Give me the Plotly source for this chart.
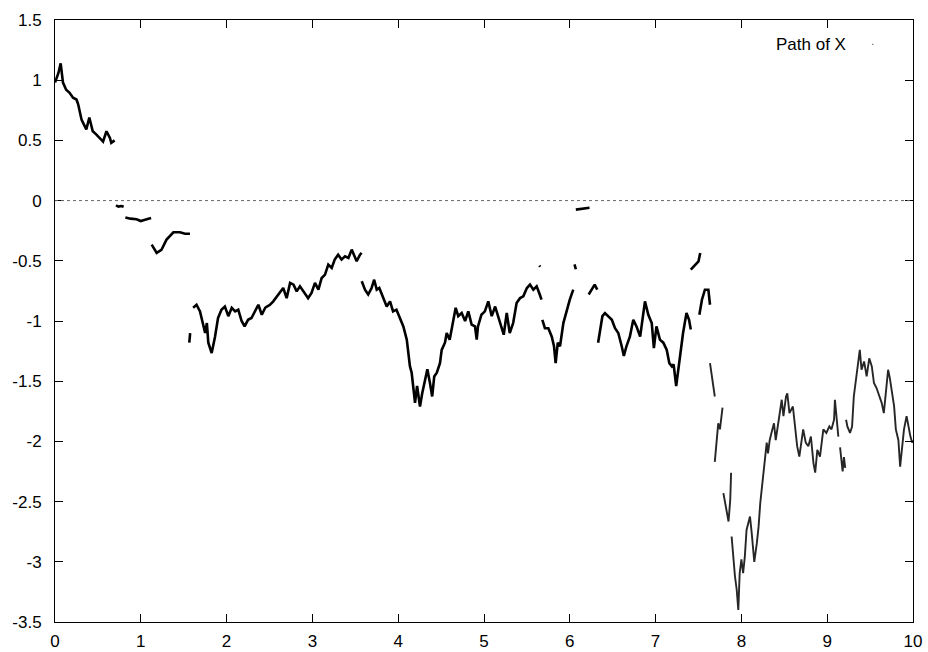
import plotly.graph_objects as go

# ---- sampled path of X, one pair of lists per continuous piece (jumps between pieces) ----
t_a = [0.00, 0.015, 0.04, 0.066, 0.093, 0.13, 0.17, 0.21, 0.25, 0.27, 0.29, 0.31, 0.345,
       0.365, 0.40, 0.44, 0.48, 0.52, 0.56, 0.60, 0.64, 0.656, 0.695]
x_a = [0.98, 1.005, 1.06, 1.14, 0.98, 0.92, 0.895, 0.854, 0.84, 0.80, 0.73, 0.67, 0.62,
       0.59, 0.69, 0.576, 0.55, 0.52, 0.49, 0.576, 0.52, 0.48, 0.50]

t_b = [0.71, 0.74, 0.77, 0.80]
x_b = [-0.04, -0.05, -0.045, -0.05]

t_c = [0.82, 0.88, 0.95, 1.00, 1.05, 1.10, 1.12]
x_c = [-0.14, -0.15, -0.155, -0.17, -0.16, -0.15, -0.145]

t_d = [1.127, 1.16, 1.185, 1.24, 1.30, 1.38, 1.457, 1.515, 1.573]
x_d = [-0.366, -0.40, -0.435, -0.41, -0.324, -0.263, -0.263, -0.275, -0.275]

t_e = [1.565, 1.575]
x_e = [-1.18, -1.10]

t_f = [1.61, 1.65, 1.69, 1.73, 1.75, 1.77, 1.787, 1.826, 1.845, 1.865, 1.90, 1.94, 1.98,
       2.02, 2.06, 2.10, 2.136, 2.175, 2.21, 2.25, 2.29, 2.33, 2.37, 2.41, 2.45, 2.47,
       2.506, 2.544, 2.584, 2.62, 2.66, 2.70, 2.74, 2.78, 2.817, 2.855, 2.894, 2.95, 2.99,
       3.03, 3.07, 3.108, 3.147, 3.185, 3.225, 3.26, 3.30, 3.34, 3.38, 3.42, 3.458, 3.497,
       3.516, 3.555, 3.574]
x_f = [-0.89, -0.865, -0.92, -1.045, -1.10, -1.017, -1.18, -1.266, -1.21, -1.13, -0.975,
       -0.906, -0.88, -0.96, -0.89, -0.92, -0.906, -1.0, -1.045, -0.99, -0.975, -0.92,
       -0.865, -0.948, -0.89, -0.88, -0.865, -0.837, -0.795, -0.767, -0.726, -0.81, -0.684,
       -0.698, -0.754, -0.712, -0.754, -0.81, -0.767, -0.684, -0.74, -0.643, -0.615, -0.532,
       -0.56, -0.49, -0.449, -0.49, -0.463, -0.476, -0.407, -0.463, -0.504, -0.449, -0.435]

t_g = [3.575, 3.613, 3.65, 3.69, 3.72, 3.75, 3.78, 3.826, 3.866, 3.905, 3.94, 3.98, 4.02,
       4.06, 4.10, 4.118, 4.137, 4.157, 4.176, 4.196, 4.22, 4.254, 4.28, 4.31, 4.34, 4.37,
       4.396, 4.42, 4.45, 4.487, 4.507, 4.545, 4.565, 4.60, 4.64, 4.67, 4.70, 4.74, 4.78,
       4.817, 4.856, 4.895, 4.915, 4.93, 4.97, 5.01, 5.05, 5.09, 5.13, 5.167, 5.206, 5.23,
       5.265, 5.30, 5.34, 5.38, 5.42, 5.458, 5.50, 5.536, 5.575, 5.614, 5.65, 5.67]
x_g = [-0.67, -0.74, -0.78, -0.726, -0.657, -0.74, -0.726, -0.81, -0.88, -0.837, -0.92,
       -0.906, -0.975, -1.045, -1.155, -1.266, -1.377, -1.43, -1.54, -1.68, -1.54, -1.71,
       -1.60, -1.49, -1.40, -1.515, -1.627, -1.46, -1.43, -1.35, -1.24, -1.18, -1.10,
       -1.155, -1.017, -0.89, -0.96, -0.934, -1.0, -0.92, -1.03, -1.045, -1.155, -1.045,
       -0.948, -0.92, -0.837, -0.96, -0.88, -0.96, -1.045, -1.114, -0.934, -1.10, -1.017,
       -0.85, -0.81, -0.795, -0.726, -0.698, -0.74, -0.712, -0.78, -0.823]

t_h = [5.645, 5.655]
x_h = [-0.54, -0.55]

t_i = [5.68, 5.71, 5.75, 5.79, 5.816, 5.835, 5.86, 5.886, 5.925, 5.964, 6.0, 6.04]
x_i = [-0.99, -1.06, -1.06, -1.13, -1.21, -1.35, -1.18, -1.21, -1.017, -0.906, -0.823, -0.74]

t_j = [6.055, 6.07]
x_j = [-0.53, -0.57]

t_k = [6.07, 6.15, 6.23]
x_k = [-0.075, -0.068, -0.06]

t_l = [6.22, 6.255, 6.29, 6.32]
x_l = [-0.78, -0.74, -0.698, -0.74]

t_m = [6.33, 6.35, 6.38, 6.41, 6.45, 6.49, 6.527, 6.565, 6.605, 6.63, 6.66, 6.70, 6.74,
       6.78, 6.82, 6.85, 6.876, 6.915, 6.955, 6.98, 7.01, 7.05, 7.09, 7.13, 7.16, 7.19,
       7.21, 7.24, 7.265, 7.284, 7.32, 7.36, 7.39, 7.41]
x_m = [-1.18, -1.09, -0.96, -0.934, -0.96, -0.99, -1.06, -1.10, -1.21, -1.29, -1.21,
       -1.13, -0.99, -1.05, -1.13, -0.99, -0.837, -0.948, -1.017, -1.225, -1.045, -1.155,
       -1.18, -1.24, -1.35, -1.377, -1.36, -1.54, -1.39, -1.29, -1.10, -0.934, -0.99, -1.07]

t_n = [7.41, 7.46, 7.50, 7.52]
x_n = [-0.574, -0.53, -0.504, -0.435]

t_o = [7.51, 7.54, 7.575, 7.615, 7.634]
x_o = [-0.948, -0.823, -0.74, -0.74, -0.865]

t_p = [7.634, 7.65, 7.67, 7.69]
x_p = [-1.35, -1.43, -1.515, -1.627]

t_q = [7.69, 7.71, 7.73, 7.75, 7.77, 7.78]
x_q = [-2.17, -2.01, -1.85, -1.90, -1.765, -1.72]

t_r = [7.79, 7.81, 7.83, 7.85, 7.87, 7.88]
x_r = [-2.43, -2.51, -2.60, -2.665, -2.485, -2.26]

t_s = [7.886, 7.905, 7.925, 7.945, 7.964, 7.98, 8.0, 8.02, 8.04, 8.06, 8.08, 8.10, 8.12,
       8.14, 8.15, 8.18, 8.20, 8.22, 8.24, 8.255, 8.275, 8.295, 8.31, 8.33, 8.35, 8.38,
       8.40, 8.43, 8.45, 8.47, 8.49, 8.52, 8.535, 8.56, 8.60, 8.625, 8.65, 8.675, 8.70,
       8.72, 8.75, 8.78, 8.81, 8.84, 8.86, 8.885, 8.916, 8.955, 8.99, 9.025, 9.05, 9.08,
       9.09, 9.11, 9.13]
x_s = [-2.79, -2.98, -3.12, -3.23, -3.40, -3.095, -2.98, -3.095, -2.957, -2.735, -2.68,
       -2.624, -2.76, -2.93, -3.0, -2.845, -2.71, -2.51, -2.375, -2.236, -2.126, -2.01,
       -2.10, -1.99, -1.93, -1.85, -1.99, -1.85, -1.765, -1.654, -1.79, -1.627, -1.60,
       -1.765, -1.71, -1.876, -2.04, -2.126, -1.99, -1.90, -2.01, -2.04, -1.96, -2.18,
       -2.26, -2.07, -2.126, -1.90, -1.93, -1.876, -1.90, -1.82, -1.654, -1.79, -1.96]

t_u = [9.15, 9.165, 9.18, 9.195, 9.21]
x_u = [-2.05, -2.17, -2.25, -2.13, -2.22]

t_v = [9.22, 9.235, 9.266, 9.29, 9.31, 9.335, 9.36, 9.38, 9.40, 9.43, 9.46, 9.49, 9.52,
       9.545, 9.575, 9.605, 9.635, 9.66, 9.685, 9.71, 9.73, 9.75, 9.78, 9.80, 9.83, 9.85,
       9.87, 9.895, 9.925, 9.95, 9.97, 9.99, 10.0]
x_v = [-1.82, -1.876, -1.93, -1.876, -1.627, -1.49, -1.32, -1.24, -1.405, -1.336, -1.46,
       -1.31, -1.377, -1.515, -1.557, -1.627, -1.68, -1.765, -1.60, -1.405, -1.474, -1.585,
       -1.71, -1.90, -1.99, -2.21, -2.07, -1.90, -1.79, -1.90, -1.96, -2.01, -1.99]

# ---- axis ticks ----
x_ticks = [0, 1, 2, 3, 4, 5, 6, 7, 8, 9, 10]
y_ticks = [1.5, 1, 0.5, 0, -0.5, -1, -1.5, -2, -2.5, -3, -3.5]
y_tick_text = ["1.5", "1", "0.5", "0", "-0.5", "-1", "-1.5", "-2", "-2.5", "-3", "-3.5"]
legend_label = "Path of X"

# slowly varying stretch (dense dots) and the volatile stretch after t ~ 7.6 (sparse dots)
calm_pieces = [(t_a, x_a), (t_b, x_b), (t_c, x_c), (t_d, x_d), (t_e, x_e), (t_f, x_f),
               (t_g, x_g), (t_h, x_h), (t_i, x_i), (t_j, x_j), (t_k, x_k), (t_l, x_l),
               (t_m, x_m), (t_n, x_n), (t_o, x_o)]
wild_pieces = [(t_p, x_p), (t_q, x_q), (t_r, x_r), (t_s, x_s), (t_u, x_u), (t_v, x_v)]


def join(pieces):
    tt_all, xx_all = [], []
    for tt, xx in pieces:
        tt_all += list(tt) + [None]
        xx_all += list(xx) + [None]
    return tt_all, xx_all


FONT = "Liberation Sans, Arial, Helvetica, sans-serif"

fig = go.Figure()
T1, X1 = join(calm_pieces)
fig.add_trace(go.Scatter(
    x=T1, y=X1, mode="lines", connectgaps=False,
    line=dict(color="black", width=2.6),
    showlegend=False, hoverinfo="skip",
))
T2, X2 = join(wild_pieces)
fig.add_trace(go.Scatter(
    x=T2, y=X2, mode="lines", connectgaps=False,
    line=dict(color="#262626", width=1.9),
    showlegend=False, hoverinfo="skip",
))

# dotted zero line
fig.add_shape(type="line", xref="x", yref="y", x0=0, x1=10, y0=0, y1=0,
              line=dict(color="#666666", width=1, dash="dot"))

# key: label on the left, tiny dot sample on the right
fig.add_annotation(x=9.246, y=1.30, xref="x", yref="y", text=legend_label,
                   showarrow=False, xanchor="right", yanchor="middle",
                   font=dict(family=FONT, size=17, color="black"))
fig.add_shape(type="rect", xref="x", yref="y", x0=9.525, x1=9.537, y0=1.292, y1=1.302,
              line=dict(width=0), fillcolor="#555555")

axis_common = dict(
    showline=True, linecolor="black", linewidth=1, mirror="ticks",
    ticks="inside", ticklen=8, tickcolor="black", tickwidth=1,
    showgrid=False, zeroline=False,
    tickfont=dict(family=FONT, size=17, color="black"),
)

fig.update_xaxes(range=[0, 10], tickvals=x_ticks, ticklabelstandoff=4, **axis_common)
fig.update_yaxes(range=[-3.5, 1.5], tickvals=y_ticks, ticktext=y_tick_text,
                 ticklabelstandoff=9, **axis_common)

fig.update_layout(
    width=928, height=652,
    margin=dict(l=55, r=15, t=20, b=30, autoexpand=False),
    paper_bgcolor="white", plot_bgcolor="white",
    showlegend=False,
)

fig.write_html("out.html")
